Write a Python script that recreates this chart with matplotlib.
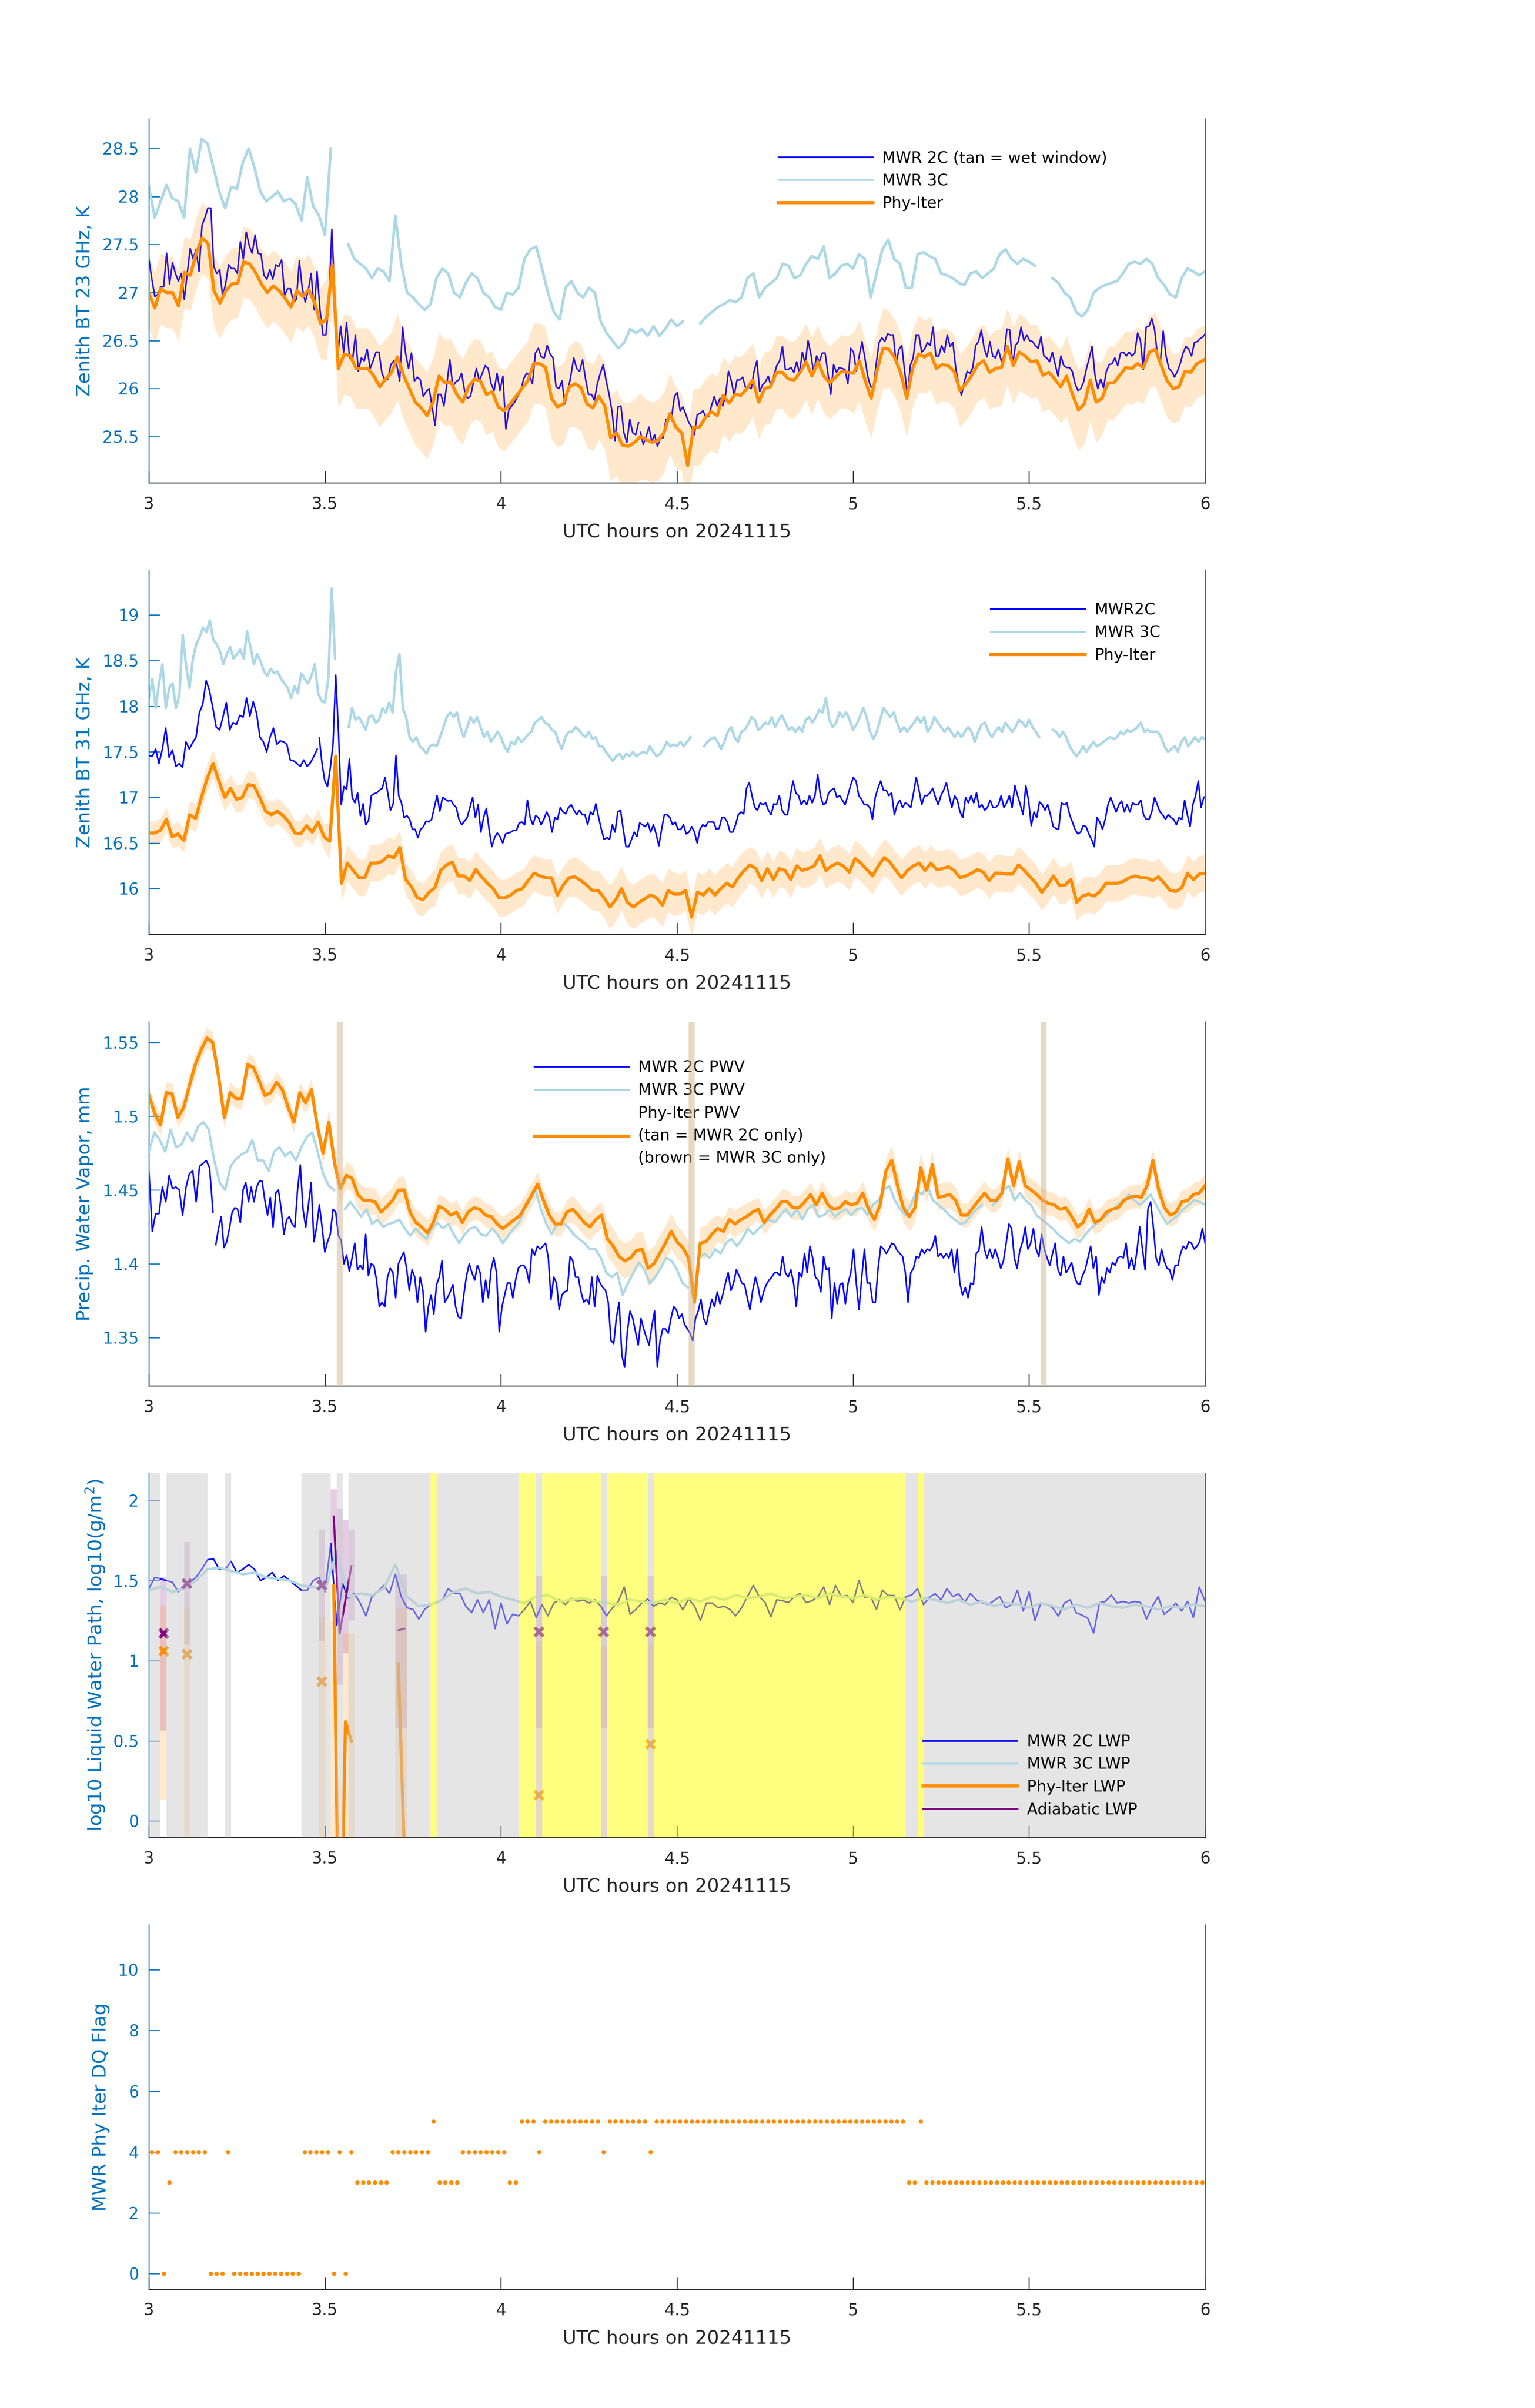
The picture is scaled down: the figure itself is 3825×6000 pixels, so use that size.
import numpy as np, matplotlib; matplotlib.use("Agg")
import matplotlib.pyplot as plt
from matplotlib.lines import Line2D
from matplotlib.ticker import FuncFormatter

def arr(s): return np.array([float(v) for v in s.split()])

# ---------------- panel 1: 23 GHz BT ----------------
P1_2C_A = arr("""27.35 27.14 26.96 26.98 27.06 27.06 27.41 27.09 27.31 27.20
27.12 27.20 26.93 27.20 27.46 27.35 27.45 27.22 27.70 27.78
27.88 27.88 27.27 27.20 27.24 26.96 27.09 27.29 27.25 27.25
27.20 27.53 27.35 27.63 27.49 27.41 27.60 27.41 27.40 27.18
27.14 27.24 27.14 27.29 27.27 27.34 26.97 27.04 27.04 26.90
26.93 27.33 27.04 26.90 27.02 27.20 26.82 27.22 26.82 26.56
26.56 26.88 27.66 26.98 26.34 26.65 26.38 26.69 26.32 26.29
26.56 26.18 26.32 26.29 26.41 26.21 26.29 26.38 26.38 26.16
26.09 26.10 26.25 26.29 26.25 26.08 26.64 26.37 26.21 26.37
26.08 26.12 26.09 25.92 25.97 26.00 25.81 25.62 25.94 25.94
25.82 26.05 26.30 26.02 26.07 26.09 26.16 25.98 25.90 25.92
26.06 26.21 26.08 26.16 26.24 26.21 26.05 25.98 26.16 25.98
26.13 25.58 25.78 25.82 25.86 25.92 25.97 26.10 26.16 26.14
26.05 26.37 26.42 26.33 26.32 26.45 26.36 26.32 26.02 26.00
26.08 25.84 25.97 26.13 26.32 26.21 26.18 26.30 26.10 25.94
25.94 25.88 26.05 26.16 26.25 26.08 25.94 25.76 25.46 25.81
25.82 25.54 25.44 25.68 25.54 25.52 25.65""")
P1_2C_B = arr("""25.55 25.42 25.50 25.60 25.45 25.52 25.40 25.48
25.49 25.68 25.69 25.71 25.92 25.96 25.77 25.81 25.73 25.65
25.60 25.52 25.73 25.74 25.77 25.71 25.71 25.82 25.92 25.82
25.90 25.82 25.94 26.18 26.08 25.93 26.09 26.09 26.12 26.01
26.02 26.00 26.18 26.29 25.97 26.04 26.07 26.13 26.02 26.14
26.24 26.29 26.44 26.20 26.20 26.22 26.17 26.28 26.16 26.38
26.26 26.50 26.36 26.16 26.34 26.28 26.37 26.37 26.16 25.94
26.25 26.17 26.22 26.21 26.20 26.05 26.42 26.38 26.18 26.34
26.49 26.32 26.13 26.02 26.01 26.26 26.48 26.53 26.49 26.57
26.56 26.56 26.26 26.41 26.45 26.18 25.93 26.24 26.32 26.56
26.56 26.38 26.41 26.48 26.45 26.64 26.34 26.34 26.45 26.38
26.56 26.44 26.48 26.21 26.05 25.93 26.07 26.18 26.16 26.22
26.45 26.49 26.61 26.42 26.33 26.49 26.34 26.32 26.41 26.29
26.34 26.62 26.61 26.25 26.45 26.49 26.64 26.50 26.56 26.50
26.49 26.45 26.42 26.54 26.34 26.32 26.28 26.38 26.25 26.13
26.34 26.24 26.22 26.22 26.18 26.05 25.98 26.00 26.07 26.21
26.32 26.44 26.14 26.00 26.10 26.01 26.18 26.25 26.26 26.32
26.24 26.37 26.38 26.34 26.38 26.34 26.37 26.58 26.50 26.20
26.64 26.65 26.73 26.61 26.34 26.28 26.60 26.34 26.21 26.18
26.12 26.18 26.26 26.37 26.44 26.41 26.34 26.48 26.49 26.52
26.54 26.58 26.50""")
P1_3C = arr("""28.10 27.78 27.95 28.12 27.98 27.95 27.78 28.50 28.25 28.60
28.55 28.30 28.05 27.88 28.10 28.08 28.35 28.50 28.30 28.05
27.95 28.00 28.05 27.95 27.98 27.92 27.75 28.20 27.90 27.80
27.60 28.50 nan nan 27.50 27.35 27.30 27.25 27.15 27.25
27.22 27.12 27.80 27.30 27.00 26.95 26.88 26.82 26.88 27.15
27.25 27.20 27.00 26.95 27.10 27.20 27.15 27.00 26.95 26.85
26.82 27.00 26.98 27.05 27.35 27.45 27.48 27.25 27.00 26.80
26.72 27.05 27.12 27.00 26.95 27.05 27.00 26.70 26.58 26.50
26.42 26.48 26.62 26.58 26.62 26.55 26.65 26.55 26.62 26.72
26.65 26.70 nan nan 26.68 26.75 26.80 26.85 26.88 26.92
26.90 26.95 27.15 27.20 26.95 27.05 27.10 27.15 27.30 27.28
27.15 27.18 27.30 27.38 27.35 27.48 27.15 27.20 27.28 27.30
27.25 27.40 27.35 26.95 27.20 27.45 27.55 27.35 27.30 27.05
27.05 27.40 27.42 27.38 27.35 27.20 27.18 27.15 27.10 27.08
27.20 27.22 27.15 27.20 27.25 27.40 27.45 27.35 27.30 27.35
27.32 27.28 nan nan 27.15 27.10 27.00 26.95 26.80 26.75
26.82 27.00 27.05 27.08 27.10 27.12 27.20 27.30 27.32 27.30
27.35 27.30 27.15 27.08 26.98 26.95 27.15 27.25 27.22 27.18
27.22""")
P1_PHY = arr("""26.99 26.84 27.04 27.00 27.00 26.86 27.21 27.18 27.41 27.57
27.51 27.02 26.89 27.02 27.09 27.10 27.32 27.30 27.21 27.09
27.00 27.07 27.02 26.94 26.85 27.02 26.96 27.03 26.89 26.68
26.72 27.29 26.21 26.36 26.34 26.21 26.21 26.21 26.13 26.02
26.10 26.17 26.33 26.14 26.00 25.86 25.80 25.72 25.86 26.13
26.06 26.07 25.94 25.86 26.02 26.10 26.08 25.94 25.97 25.81
25.77 25.84 25.92 26.00 26.08 26.26 26.26 26.22 25.90 25.81
25.84 26.02 26.05 26.01 25.84 25.80 25.92 25.82 25.49 25.54
25.41 25.40 25.44 25.50 25.47 25.44
25.46 25.54 25.74 25.60 25.54 25.20 25.60 25.60 25.70 25.76
25.72 25.93 25.85 25.94 25.93 26.00 26.09 25.86 26.00 26.02
26.17 26.17 26.10 26.09 26.17 26.28 26.13 26.28 26.13 26.06
26.12 26.18 26.17 26.16 26.29 26.08 25.90 26.19 26.42 26.41
26.32 26.16 25.90 26.21 26.36 26.33 26.37 26.21 26.25 26.24
26.18 25.98 26.05 26.14 26.25 26.29 26.17 26.21 26.22 26.44
26.24 26.38 26.34 26.28 26.29 26.14 26.17 26.10 26.02 26.13
25.94 25.78 25.84 26.09 25.86 25.90 26.06 26.06 26.14 26.22
26.21 26.26 26.22 26.38 26.41 26.24 26.08 26.00 26.02 26.18
26.17 26.26 26.29 26.33""")
# Phy-Iter uncertainty half-width per 0.1 h block
P1_W = arr("""0.37 0.37 0.37 0.37 0.37 0.42 0.42 0.45 0.45 0.42 0.42 0.42 0.45 0.45 0.42
0.40 0.40 0.38 0.40 0.38 0.42 0.40 0.38 0.38 0.40 0.38 0.42 0.38 0.38 0.36""")

# ---------------- panel 2: 31 GHz BT ----------------
P2_2C_A = arr("""17.46 17.45 17.53 17.37 17.53 17.76 17.44 17.52 17.34 17.37
17.33 17.61 17.53 17.60 17.66 17.93 18.02 18.28 18.17 17.98
17.77 17.74 17.88 18.04 17.74 17.82 17.80 17.90 17.88 18.09
17.89 18.05 17.92 17.66 17.61 17.50 17.66 17.76 17.58 17.62
17.61 17.58 17.41 17.40 17.37 17.34 17.41 17.34 17.38 17.45
17.53""")
P2_2C_B = arr("""17.65 17.37 17.18 17.12 17.32 17.58 18.34 17.72 16.92 17.12
17.09 17.42 17.00 16.94 17.05 16.80 16.93 16.70 16.75 17.02
17.04 17.05 17.08 17.10 17.22 17.05 16.86 16.93 17.46 17.02
16.94 16.78 16.80 16.76 16.65 16.65 16.56 16.65 16.68 16.74
16.73 16.76 16.89 17.02 16.85 17.00 16.98 16.96 16.97 16.92
16.89 16.76 16.70 16.74 16.78 16.89 17.00 16.78 16.92 16.62
16.78 16.88 16.65 16.46 16.56 16.61 16.57 16.50 16.60 16.61
16.62 16.64 16.64 16.72 16.73 16.70 16.97 16.78 16.70 16.80
16.78 16.70 16.76 16.84 16.78 16.62 16.78 16.76 16.89 16.84
16.82 16.89 16.92 16.86 16.81 16.86 16.81 16.81 16.70 16.84
16.81 16.93 16.78 16.65 16.54 16.56 16.54 16.70 16.62 16.84
16.86 16.65 16.46 16.46 16.54 16.62 16.57 16.72 16.70 16.68
16.72 16.62 16.70 16.60 16.47 16.65 16.81 16.81 16.78 16.70
16.73 16.65 16.65 16.70 16.60 16.62 16.68 16.62 16.50 16.65
16.70 16.68 16.73 16.73 16.73 16.65 16.66 16.78 16.78 16.73
16.62 16.62 16.70 16.81 16.84 16.82 17.10 17.16 17.02 16.89
16.86 16.94 16.92 16.94 16.86 16.81 16.93 16.92 17.02 16.86
16.81 16.81 17.02 17.18 17.05 17.02 16.92 16.97 16.92 17.02
16.94 17.02 17.25 17.02 16.92 16.94 17.05 17.08 17.10 17.00
17.02 16.97 16.92 17.02 17.13 17.22 17.18 17.02 16.98 16.92
16.92 16.89 16.76 17.00 17.10 17.18 17.08 17.08 17.02 17.05
16.81 16.92 16.97 16.89 16.94 16.92 16.89 17.05 17.22 17.08
16.92 17.02 17.02 17.05 17.10 17.00 16.92 17.02 17.08 17.16
17.02 16.89 17.02 16.97 16.84 16.78 17.00 16.94 17.02 16.94
17.05 16.89 16.92 16.86 16.89 16.97 16.89 16.89 16.92 17.02
16.89 16.94 17.02 16.89 17.13 17.02 16.92 16.81 17.13 16.97
16.69 16.84 16.78 16.95 16.92 16.86 16.92 16.81 16.68 16.66
16.65 16.94 16.92 16.94 16.81 16.73 16.65 16.60 16.62 16.69
16.68 16.60 16.54 16.46 16.78 16.73 16.65 16.76 16.92 17.00
16.92 16.84 16.92 16.96 16.84 16.92 16.84 16.94 16.92 16.92
16.97 16.81 16.76 16.76 16.84 17.00 16.92 16.84 16.81 16.76
16.81 16.78 16.76 16.70 16.78 16.76 16.97 16.81 16.68 16.92
17.02 17.18 16.89 17.00 17.02""")
P2_3C = arr("""18.09 18.30 17.98 18.25 18.46 17.98 18.20 18.25 17.98 18.12
18.78 18.44 18.20 18.52 18.68 18.76 18.86 18.81 18.94 18.73
18.68 18.60 18.46 18.57 18.65 18.52 18.57 18.62 18.52 18.82
18.65 18.46 18.57 18.49 18.38 18.33 18.41 18.36 18.38 18.30
18.25 18.20 18.09 18.22 18.14 18.36 18.30 18.25 18.33 18.46
18.14 18.06 18.04 18.30 19.29 18.52 nan nan nan
17.77 17.98 17.85 17.88 17.82 17.74 17.88 17.90 17.82 17.85 17.98 17.93 18.04 17.93
18.38 18.57 17.98 17.88 17.66 17.61 17.66 17.56 17.53 17.48 17.56 17.58 17.56 17.66
17.77 17.88 17.93 17.88 17.93 17.77 17.66 17.77 17.88 17.82 17.88 17.77 17.66 17.72
17.61 17.66 17.72 17.66 17.56 17.50 17.61 17.58 17.66 17.61 17.64 17.69 17.72 17.82
17.85 17.88 17.82 17.80 17.74 17.72 17.61 17.53 17.66 17.72 17.72 17.77 17.74 17.69
17.66 17.72 17.64 17.66 17.56 17.56 17.50 17.45 17.40 17.45 17.48 17.42 17.48 17.45
17.50 17.45 17.48 17.50 17.48 17.56 17.50 17.45 17.48 17.53 17.61 17.56 17.58 17.56
17.61 17.56 17.61 17.66 nan nan nan
17.56 17.61 17.64 17.66 17.61 17.53 17.61 17.72 17.77 17.66 17.61 17.72 17.74 17.80
17.88 17.85 17.74 17.77 17.82 17.80 17.88 17.77 17.85 17.90 17.82 17.74 17.77 17.72
17.77 17.72 17.85 17.88 17.82 17.88 17.96 17.93 18.09 17.85 17.77 17.82 17.93 17.88
17.93 17.85 17.74 17.80 17.88 17.98 17.88 17.72 17.64 17.72 17.85 17.98 17.93 17.88
17.93 17.82 17.72 17.77 17.72 17.77 17.82 17.88 17.82 17.88 17.72 17.77 17.88 17.82
17.77 17.72 17.77 17.72 17.66 17.72 17.66 17.72 17.77 17.72 17.61 17.72 17.80 17.82
17.72 17.66 17.72 17.77 17.72 17.82 17.77 17.72 17.77 17.85 17.82 17.77 17.85 17.77
17.72 17.66 nan nan nan
17.74 17.72 17.66 17.72 17.66 17.56 17.50 17.45 17.50 17.56 17.50 17.56 17.61 17.56
17.58 17.61 17.64 17.66 17.64 17.66 17.72 17.69 17.74 17.72 17.74 17.77 17.82 17.72
17.74 17.72 17.72 17.72 17.66 17.56 17.50 17.53 17.56 17.50 17.61 17.66 17.56 17.61
17.66 17.61 17.66 17.64""")
P2_PHY = arr("""16.61 16.61 16.64 16.76 16.57 16.60 16.53 16.81 16.77 17.00
17.21 17.37 17.18 17.00 17.10 16.98 17.00 17.14 17.13 17.00
16.85 16.81 16.85 16.80 16.73 16.61 16.60 16.69 16.62 16.73
16.57 16.52 17.45 16.06 16.28 16.20 16.12 16.12 16.28
16.28 16.30 16.36 16.34 16.45 16.10 16.02 15.90 15.88 15.96
16.01 16.20 16.26 16.29 16.14 16.14 16.09 16.21 16.13 16.06
16.00 15.90 15.90 15.93 15.98 16.00 16.09 16.17 16.14 16.12
16.12 15.93 16.04 16.12 16.13 16.09 16.04 15.98 15.98 15.90
15.80 15.88 16.00 15.85 15.80 15.85 15.89 15.93 15.90 15.82
15.98 15.94 15.94 15.98 15.69 15.96 15.93 16.00 15.93 16.00
16.06 16.02 16.12 16.20 16.26 16.22 16.09 16.22 16.10 16.22
16.20 16.10 16.25 16.20 16.22 16.25 16.36 16.20 16.25 16.28
16.25 16.18 16.33 16.28 16.21 16.14 16.25 16.34 16.29 16.20
16.12 16.20 16.25 16.28 16.20 16.28 16.21 16.22 16.24 16.20
16.12 16.14 16.17 16.21 16.18 16.09 16.17 16.17 16.16 16.16
16.26 16.20 16.13 16.06 15.96 16.04 16.14 16.04 16.04 16.10
15.85 15.92 15.94 15.92 15.97 16.06 16.06 16.06 16.08 16.12
16.14 16.12 16.12 16.09 16.13 16.06 15.98 15.97 16.01 16.17
16.10 16.16 16.17""")
P2_W = arr("""0.13 0.15 0.15 0.14 0.14 0.20 0.20 0.18 0.20 0.20 0.20 0.20 0.22 0.24 0.24
0.22 0.22 0.20 0.20 0.20 0.20 0.20 0.20 0.20 0.20 0.20 0.20 0.20 0.20 0.20""")

# ---------------- panel 3: PWV ----------------
P3_2C_A = arr("""1.463 1.422 1.434 1.434 1.452 1.442 1.460 1.451 1.452 1.450
1.433 1.452 1.461 1.463 1.442 1.466 1.468 1.470 1.465 1.435""")
P3_2C_B = arr("""1.413 1.424 1.432 1.411 1.415 1.424 1.435 1.438 1.437 1.428
1.450 1.455 1.442 1.452 1.442 1.452 1.456 1.456 1.443 1.433
1.445 1.425 1.448 1.450 1.437 1.420 1.430 1.432 1.427 1.425
1.450 1.467 1.437 1.425 1.440 1.455 1.415 1.425 1.440 1.425
1.408 1.415 1.420 1.437 1.435 1.419 1.416 1.400 1.406 1.395
1.404 1.414 1.396 1.399 1.396 1.420 1.392 1.400 1.399 1.389
1.371 1.374 1.371 1.391 1.397 1.394 1.377 1.400 1.404 1.408
1.397 1.382 1.396 1.391 1.374 1.391 1.382 1.354 1.371 1.379
1.366 1.386 1.391 1.402 1.374 1.377 1.381 1.386 1.371 1.364
1.363 1.379 1.392 1.400 1.394 1.389 1.399 1.394 1.374 1.389
1.377 1.396 1.404 1.394 1.354 1.371 1.379 1.387 1.387 1.377
1.389 1.397 1.399 1.399 1.396 1.387 1.410 1.406 1.412 1.410
1.412 1.414 1.404 1.376 1.391 1.387 1.369 1.379 1.381 1.382
1.405 1.402 1.391 1.391 1.381 1.374 1.376 1.373 1.391 1.371
1.392 1.387 1.384 1.382 1.374 1.348 1.346 1.364 1.374 1.338
1.330 1.354 1.368 1.363 1.354 1.345 1.363 1.356 1.350 1.345
1.358 1.368 1.330 1.348 1.356 1.356 1.353 1.363 1.371 1.369
1.363 1.366 1.359 1.356 1.353 1.348 1.363 1.368 1.376 1.363
1.359 1.368 1.376 1.371 1.381 1.373 1.379 1.387 1.394 1.382
1.387 1.396 1.392 1.387 1.386 1.377 1.369 1.382 1.391 1.384
1.374 1.381 1.386 1.389 1.391 1.394 1.394 1.392 1.405 1.394
1.391 1.396 1.387 1.371 1.394 1.391 1.407 1.394 1.412 1.404
1.391 1.389 1.381 1.405 1.396 1.397 1.363 1.387 1.373 1.386
1.387 1.373 1.387 1.394 1.410 1.387 1.369 1.391 1.410 1.387
1.387 1.374 1.374 1.397 1.412 1.410 1.407 1.410 1.414 1.413
1.409 1.407 1.405 1.394 1.374 1.394 1.397 1.405 1.404 1.410
1.407 1.410 1.409 1.412 1.419 1.405 1.407 1.404 1.407 1.404
1.410 1.394 1.410 1.387 1.379 1.384 1.377 1.387 1.386 1.407
1.409 1.425 1.410 1.404 1.410 1.404 1.410 1.404 1.397 1.402
1.414 1.427 1.424 1.404 1.397 1.409 1.415 1.425 1.410 1.414
1.424 1.410 1.405 1.420 1.410 1.404 1.399 1.407 1.414 1.396
1.392 1.405 1.394 1.397 1.401 1.392 1.387 1.386 1.392 1.396
1.404 1.412 1.397 1.405 1.379 1.391 1.387 1.397 1.394 1.401
1.399 1.404 1.405 1.404 1.414 1.397 1.404 1.396 1.409 1.425
1.410 1.396 1.437 1.442 1.425 1.404 1.399 1.410 1.402 1.397
1.396 1.389 1.399 1.399 1.407 1.412 1.410 1.415 1.414 1.410
1.412 1.415 1.424 1.414""")
P3_3C = arr("""1.476 1.489 1.484 1.476 1.491 1.479 1.481 1.489 1.483 1.493
1.496 1.491 1.470 1.455 1.450 1.466 1.471 1.474 1.476 1.484
1.470 1.470 1.463 1.476 1.479 1.473 1.476 1.470 1.479 1.486
1.489 1.476 1.461 1.453 1.450 nan 1.437 1.442 1.437 1.432
1.437 1.427 1.430 1.425 1.427 1.428 1.430 1.424 1.419 1.424
1.420 1.417 1.424 1.428 1.424 1.427 1.420 1.414 1.420 1.424
1.425 1.420 1.419 1.424 1.420 1.414 1.419 1.424 1.428 1.437
1.443 1.450 1.437 1.427 1.420 1.427 1.428 1.425 1.420 1.417
1.414 1.410 1.410 1.404 1.394 1.391 1.394 1.379 1.387 1.394
1.401 1.396 1.387 1.391 1.397 1.404 1.402 1.396 1.387 1.384
nan 1.404 1.407 1.404 1.410 1.407 1.414 1.417 1.412 1.417
1.424 1.420 1.424 1.427 1.430 1.428 1.433 1.437 1.432 1.437
1.430 1.437 1.440 1.432 1.433 1.437 1.432 1.435 1.437 1.433
1.437 1.438 1.433 1.440 1.443 1.450 1.453 1.443 1.437 1.433
1.440 1.450 1.447 1.453 1.443 1.440 1.437 1.433 1.430 1.427
1.428 1.433 1.437 1.440 nan 1.440 1.443 1.450 1.453 1.443
1.448 1.443 1.440 1.433 1.430 1.427 1.424 1.420 1.417 1.414
1.417 1.415 1.420 1.424 1.427 1.430 1.433 1.437 1.440 1.443
1.447 1.443 1.440 1.443 1.447 1.440 1.433 1.427 1.430 1.433
1.437 1.440 1.443 1.442 1.440""")
P3_PHY = arr("""1.514 1.502 1.494 1.516 1.515 1.499 1.506 1.521 1.535
1.545 1.553 1.550 1.527 1.499 1.516 1.512 1.512 1.535 1.533
1.524 1.514 1.516 1.523 1.518 1.506 1.496 1.516 1.509 1.518
1.494 1.475 1.496 1.468 1.451 1.460 1.458 1.447 1.443
1.443 1.442 1.435 1.439 1.443 1.450 1.450 1.435 1.428 1.425
1.421 1.428 1.439 1.437 1.433 1.435 1.428 1.435 1.438 1.437
1.433 1.432 1.427 1.424 1.427 1.430 1.433 1.440 1.447 1.454
1.443 1.433 1.427 1.427 1.435 1.437 1.433 1.428 1.425 1.430
1.433 1.417 1.412 1.405 1.402 1.404 1.409 1.410 1.397 1.400
1.407 1.414 1.422 1.415 1.411 1.404 1.374 1.414 1.415 1.420
1.424 1.422 1.430 1.427 1.430 1.432 1.435 1.437 1.428 1.433
1.437 1.442 1.442 1.438 1.438 1.442 1.447 1.440 1.448 1.440
1.437 1.438 1.442 1.440 1.441 1.448 1.437 1.430 1.440 1.463
1.470 1.453 1.438 1.432 1.438 1.465 1.450 1.467 1.445 1.446
1.447 1.443 1.433 1.433 1.438 1.443 1.448 1.443 1.443 1.448
1.471 1.453 1.469 1.453 1.450 1.447 1.443 1.441 1.440 1.437
1.438 1.432 1.425 1.428 1.437 1.428 1.430 1.435 1.437 1.438
1.443 1.445 1.446 1.445 1.453 1.470 1.450 1.438 1.433 1.435
1.442 1.443 1.447 1.448 1.453""")
P3_W = arr("""0.007 0.007 0.007 0.007 0.007 0.009 0.009 0.009 0.008 0.008 0.008 0.008 0.009 0.012 0.012
0.011 0.009 0.008 0.008 0.008 0.008 0.010 0.009 0.008 0.008 0.008 0.008 0.008 0.008 0.008""")
TAN_MIN = [32, 92, 152]   # minutes where Phy-Iter used MWR 2C only

# ---------------- panel 4: log10 LWP ----------------
P4_2C = arr("""1.45 1.52 1.51 1.50 1.49 1.43 1.47 1.49 1.52 1.57
1.63 1.635 1.57 1.57 1.62 1.55 1.57 1.60 1.57 1.50
1.52 1.55 1.50 1.53 1.50 1.47 1.44 1.44 1.50 1.52
1.43 1.73 1.22 1.48 1.39 1.42 1.36 1.28 1.40 1.43
1.47 1.42 1.54 1.40 1.33 1.32 1.26 1.32 1.35 1.36
1.38 1.45 1.42 1.42 1.34 1.30 1.38 1.30 1.38 1.20
1.36 1.23 1.29 1.28 1.32 1.37 1.27 1.35 1.28 1.36
1.38 1.35 1.39 1.37 1.38 1.36 1.38 1.34 1.28 1.33
1.37 1.46 1.29 1.32 1.36 1.385 1.34 1.36 1.35 1.396
1.38 1.318 1.385 1.34 1.251 1.36 1.36 1.33 1.34 1.32
1.28 1.33 1.40 1.47 1.40 1.365 1.274 1.38 1.374 1.363
1.40 1.42 1.363 1.374 1.40 1.46 1.35 1.47 1.40 1.407
1.363 1.50 1.396 1.40 1.32 1.44 1.407 1.407 1.318 1.40
1.41 1.45 1.35 1.396 1.418 1.38 1.45 1.40 1.418 1.363
1.42 1.38 1.363 1.35 1.374 1.40 1.33 1.35 1.44 1.31
1.43 1.25 1.36 1.35 1.33 1.279 1.36 1.38 1.30 1.285
1.265 1.173 1.363 1.37 1.41 1.36 1.37 1.36 1.37 1.363
1.26 1.34 1.40 1.29 1.318 1.36 1.31 1.37 1.27 1.46 1.37""")
P4_3C = arr("""1.44 1.46 1.43 1.45 1.50 1.57 1.58 1.56 1.54 1.55
1.52 1.51 1.50 1.47 1.46 1.44 1.68 1.40 1.42 1.41
1.45 1.60 1.40 1.34 1.35 1.38 1.43 1.45 1.42 1.43
1.40 1.38 1.36 1.40 1.41 1.37 1.38 1.39 1.37 1.36
1.35 1.38 1.37 1.36 1.38 1.36 1.39 1.37 1.40 1.38
1.41 1.39 1.40 1.42 1.39 1.40 1.41 1.39 1.42 1.40
1.39 1.41 1.38 1.40 1.39 1.37 1.39 1.38 1.36 1.38
1.35 1.37 1.34 1.36 1.35 1.33 1.36 1.34 1.32 1.35
1.33 1.36 1.34 1.33 1.35 1.34 1.32 1.34 1.33 1.35
1.34""")
LWP_MIN = [2, 6, 29, 31, 32, 33, 34, 42, 43, 66, 77, 85]
PHY_LWP = [1.06, 1.04, 0.87, 1.47, -1.2, 0.62, 0.50, 0.98, -0.15, 0.16, np.nan, 0.48]
PHY_LO = [0.13, -0.2, -0.2, -0.2, np.nan, -0.2, -0.2, -0.2, -0.2, -0.2, -0.2, -0.2]
PHY_HI = [1.34, 1.33, 1.27, 1.25, np.nan, 1.17, 1.17, 1.33, 1.33, 1.12, 1.09, 1.10]
ADI_LWP = [1.17, 1.48, 1.47, 1.90, 1.17, 1.38, 1.59, 1.19, 1.20, 1.18, 1.18, 1.18]
ADI_LO = [0.565, 1.10, 1.12, 1.55, 0.85, 1.05, 1.25, 0.58, 0.58, 0.58, 0.58, 0.58]
ADI_HI = [1.52, 1.74, 1.82, 2.07, 1.95, 1.88, 1.82, 1.54, 1.54, 1.53, 1.53, 1.53]

# ---------------- panel 5: DQ flag per minute ----------------
DQ_FLAG = [int(c) for c in (
    "4403444444000400000000000044444040433333344444445333344444444335554"
    "5555555555455555554"
    "5555555555555555555555555555555555555555555" "3353"
    "3333333333333333333333333333333333333333333333333")]

# ---------------- style ----------------
BLUE, LBLUE, ORANGE, PURPLE, TAN = '#0000FF', '#ADD8E6', '#FF8C00', '#800080', '#D2B48C'
AXC, DARK = '#0072BD', '#262626'
plt.rcParams['font.family'] = ['DejaVu Sans']
TICK_FS, LAB_FS, LEG_FS = 9.8, 11.3, 9.4

fig = plt.figure(figsize=(12.75, 20), dpi=300)
BOT = [0.7995, 0.6120, 0.4245, 0.2370, 0.0494]
axes = [fig.add_axes([0.097, b, 0.6881, 0.1512]) for b in BOT]
gfmt = FuncFormatter(lambda v, p: f"{v:g}")

def style(ax, ylab, ylim, yt, lx):
    ax.set_xlim(3, 6); ax.set_ylim(*ylim)
    ax.set_xticks(np.arange(3, 6.01, 0.5)); ax.set_yticks(yt)
    ax.xaxis.set_major_formatter(gfmt); ax.yaxis.set_major_formatter(gfmt)
    ax.spines['top'].set_visible(False)
    for s in ['left', 'right']:
        ax.spines[s].set_color(AXC); ax.spines[s].set_linewidth(0.6)
    ax.spines['bottom'].set_color(DARK); ax.spines['bottom'].set_linewidth(0.6)
    ax.tick_params(axis='y', direction='in', length=6.5, width=0.6, colors=AXC, labelsize=TICK_FS, pad=6.0, right=False)
    ax.tick_params(axis='x', direction='in', length=7, width=0.6, colors=DARK, labelsize=TICK_FS, pad=8.2)
    ax.set_xlabel("UTC hours on 20241115", fontsize=LAB_FS, color=DARK)
    ax.xaxis.set_label_coords(0.5, -0.111)
    ax.set_ylabel(ylab, fontsize=LAB_FS, color=AXC)
    ax.yaxis.set_label_coords(lx, 0.5)

def band(t, w):
    return w[np.clip(((t - 3) / 0.1).astype(int), 0, len(w) - 1)]

def leg(ax, handles, labels, x, y):
    return ax.legend(handles, labels, loc='upper left', bbox_to_anchor=(x, y), frameon=False,
                     fontsize=LEG_FS, handlelength=6.0, handletextpad=0.6, labelspacing=0.47,
                     borderpad=0, borderaxespad=0)

# panel 1
ax = axes[0]
tp = np.linspace(3.0, 6.01, len(P1_PHY)); w = band(tp, P1_W)
ax.fill_between(tp, P1_PHY - w, P1_PHY + w, color=ORANGE, alpha=0.2, lw=0, zorder=1)
ax.plot(np.linspace(3.0, 6.0, len(P1_3C)), P1_3C, color=LBLUE, lw=1.6, zorder=2)
ax.plot(np.linspace(3.0, 4.391, len(P1_2C_A)), P1_2C_A, color='#2A12E0', lw=0.9, zorder=3)
ax.plot(np.linspace(4.396, 6.01, len(P1_2C_B)), P1_2C_B, color='#2A12E0', lw=0.9, zorder=3)
ax.plot(tp, P1_PHY, color=ORANGE, lw=1.9, zorder=4)
style(ax, "Zenith BT 23 GHz, K", (25.02, 28.81), np.arange(25.5, 28.51, 0.5), -0.052)
leg(ax, [Line2D([], [], color=BLUE, lw=1), Line2D([], [], color=LBLUE, lw=1.1), Line2D([], [], color=ORANGE, lw=1.9)],
    ["MWR 2C (tan = wet window)", "MWR 3C", "Phy-Iter"], 0.596, 0.912)

# panel 2
ax = axes[1]
tp = np.linspace(3.0, 6.0, len(P2_PHY)); w = band(tp, P2_W)
ax.fill_between(tp, P2_PHY - w, P2_PHY + w, color=ORANGE, alpha=0.2, lw=0, zorder=1)
ax.plot(np.linspace(3.0, 6.0, len(P2_3C)), P2_3C, color=LBLUE, lw=1.5, zorder=2)
ax.plot(np.linspace(3.0, 3.478, len(P2_2C_A)), P2_2C_A, color=BLUE, lw=0.9, zorder=3)
ax.plot(np.linspace(3.484, 6.004, len(P2_2C_B)), P2_2C_B, color=BLUE, lw=0.9, zorder=3)
ax.plot(tp, P2_PHY, color=ORANGE, lw=1.9, zorder=4)
style(ax, "Zenith BT 31 GHz, K", (15.5, 19.49), np.arange(16, 19.01, 0.5), -0.052)
leg(ax, [Line2D([], [], color=BLUE, lw=1), Line2D([], [], color=LBLUE, lw=1.1), Line2D([], [], color=ORANGE, lw=1.9)],
    ["MWR2C", "MWR 3C", "Phy-Iter"], 0.797, 0.911)

# panel 3
ax = axes[2]
tp = np.linspace(3.0, 6.0, len(P3_PHY)); w = band(tp, P3_W)
ax.fill_between(tp, P3_PHY - w, P3_PHY + w, color=ORANGE, alpha=0.2, lw=0, zorder=1)
ax.plot(np.linspace(3.0, 3.182, len(P3_2C_A)), P3_2C_A, color=BLUE, lw=0.9, zorder=2)
ax.plot(np.linspace(3.190, 6.0, len(P3_2C_B)), P3_2C_B, color=BLUE, lw=0.9, zorder=2)
ax.plot(np.linspace(3.0, 6.0, len(P3_3C)), P3_3C, color=LBLUE, lw=1.4, zorder=3)
ax.plot(tp, P3_PHY, color=ORANGE, lw=1.9, zorder=4)
for m in TAN_MIN:
    ax.axvspan(3 + m / 60, 3 + (m + 1) / 60, color=TAN, alpha=0.5, lw=0, zorder=6)
style(ax, "Precip. Water Vapor, mm", (1.3174, 1.564), np.arange(1.35, 1.551, 0.05), -0.052)
lg = leg(ax, [Line2D([], [], color=BLUE, lw=1), Line2D([], [], color=LBLUE, lw=1.1), Line2D([], [], color=ORANGE, lw=1.9)],
         ["MWR 2C PWV", "MWR 3C PWV", "Phy-Iter PWV\n(tan = MWR 2C only)\n(brown = MWR 3C only)"], 0.365, 0.894)
lg.get_texts()[2].set_linespacing(1.6)

# panel 4
ax = axes[3]
tm = 3 + np.arange(181) / 60
ax.plot(tm, P4_2C, color=BLUE, lw=0.9, zorder=2)
ax.plot(np.linspace(3.0, 6.0, len(P4_3C)), P4_3C, color=LBLUE, lw=1.5, zorder=2.1)
tc = 3 + (np.arange(181) + 0.5) / 60
phy = np.full(181, np.nan); adi = np.full(181, np.nan)
phy[LWP_MIN] = PHY_LWP; adi[LWP_MIN] = ADI_LWP
for j, m in enumerate(LWP_MIN):
    xs = [tc[m] - 1 / 120, tc[m] + 1 / 120]
    if np.isfinite(ADI_LO[j]):
        ax.fill_between(xs, ADI_LO[j], ADI_HI[j], color=PURPLE, alpha=0.2, lw=0, zorder=1.5)
    if np.isfinite(PHY_LO[j]):
        ax.fill_between(xs, PHY_LO[j], PHY_HI[j], color=ORANGE, alpha=0.2, lw=0, zorder=1.5)
ax.plot(tc, phy, color=ORANGE, lw=1.9, zorder=3)
ax.plot(tc, adi, color=PURPLE, lw=1.2, zorder=3)
iso = lambda a, m: np.isfinite(a[m]) and not np.isfinite(a[m - 1]) and not np.isfinite(a[m + 1])
for m in LWP_MIN:
    if iso(phy, m):
        ax.plot(tc[m], phy[m], 'x', color=ORANGE, ms=5.5, mew=2, zorder=4)
    if iso(adi, m):
        ax.plot(tc[m], adi[m], 'x', color=PURPLE, ms=5.5, mew=2, zorder=4)
fl = np.array(DQ_FLAG[:181])
for m, f in enumerate(fl):
    if f == 5:
        ax.axvspan(3 + m / 60, 3 + (m + 1) / 60, color='#FFFF00', alpha=0.5, lw=0, zorder=5)
    elif f in (3, 4):
        ax.axvspan(3 + m / 60, 3 + (m + 1) / 60, color='#CCCCCC', alpha=0.5, lw=0, zorder=5)
style(ax, "log10 Liquid Water Path, log10(g/m$^{2}$)", (-0.102, 2.17), [0, 0.5, 1, 1.5, 2], -0.040)
lg = leg(ax, [Line2D([], [], color=BLUE, lw=1), Line2D([], [], color=LBLUE, lw=1.1),
              Line2D([], [], color=ORANGE, lw=1.9), Line2D([], [], color=PURPLE, lw=1.1)],
         ["MWR 2C LWP", "MWR 3C LWP", "Phy-Iter LWP", "Adiabatic LWP"], 0.733, 0.283)
lg.set_zorder(10)

# panel 5
ax = axes[4]
ax.plot(tc[:len(fl)], fl, 'o', color=ORANGE, ms=2.6, mec='none', zorder=3)
style(ax, "MWR Phy Iter DQ Flag", (-0.51, 11.47), [0, 2, 4, 6, 8, 10], -0.037)

fig.savefig("out.png", dpi=300)
